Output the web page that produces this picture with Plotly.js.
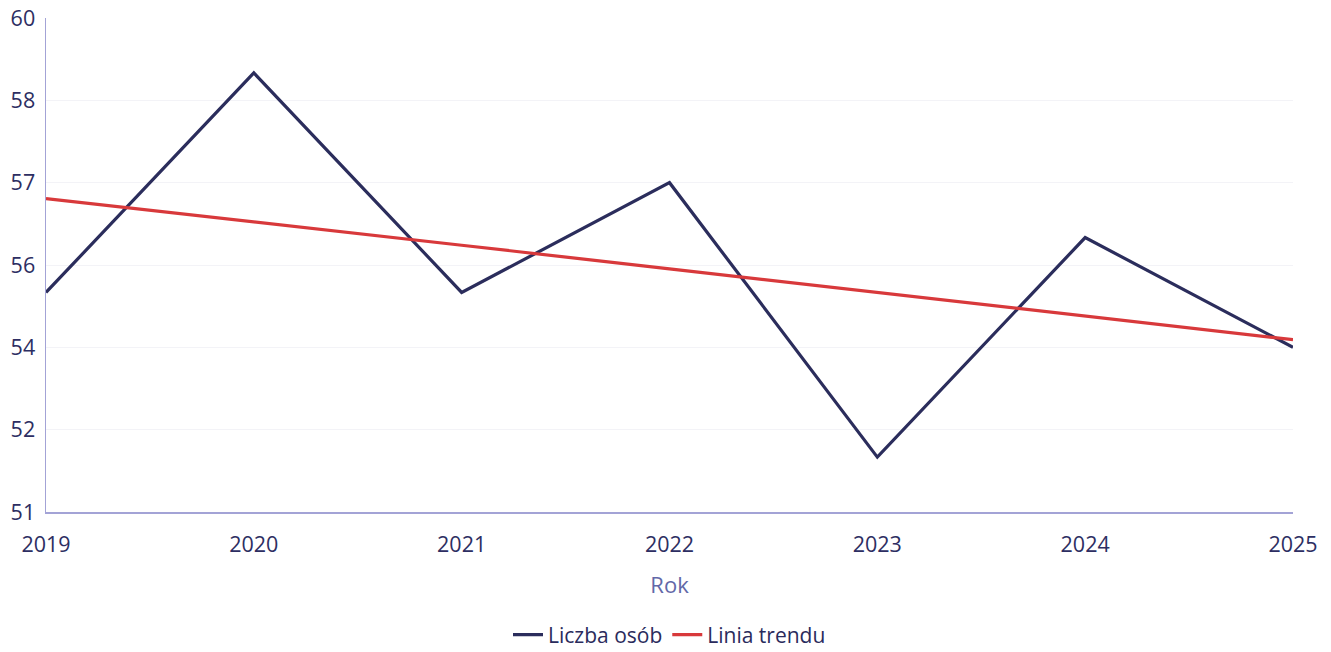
<!DOCTYPE html>
<html>
<head>
<meta charset="utf-8">
<script src="https://cdn.plot.ly/plotly-3.0.1.min.js"></script>
<style>
  html, body { margin: 0; padding: 0; background: #ffffff; }
  #chart { width: 1331px; height: 652px; }
</style>
</head>
<body>
<div id="chart"></div>
<script>
const years = ["2019", "2020", "2021", "2022", "2023", "2024", "2025"];
const liczbaOsob = [55.0, 59.0, 55.0, 57.0, 52.0, 56.0, 54.0];
const liniaTrendu = [56.71, 56.29, 55.86, 55.43, 55.0, 54.57, 54.14];
const yTickVals = [51, 52.5, 54, 55.5, 57, 58.5, 60];
const yTickText = ["51", "52", "54", "56", "57", "58", "60"];

const fontFamily = '"Open Sans", "Noto Sans", sans-serif';

const traces = [
  {
    x: years, y: liczbaOsob, type: 'scatter', mode: 'lines',
    name: 'Liczba osób',
    line: { color: '#2b2d5c', width: 3.2 }
  },
  {
    x: years, y: liniaTrendu, type: 'scatter', mode: 'lines',
    name: 'Linia trendu',
    line: { color: '#d8393b', width: 3.2 }
  }
];

const layout = {
  width: 1331, height: 652,
  margin: { l: 46, r: 38, t: 18, b: 140, autoexpand: false },
  paper_bgcolor: '#ffffff', plot_bgcolor: '#ffffff',
  font: { family: fontFamily, size: 21, color: '#2d2e62' },
  showlegend: true,
  legend: {
    orientation: 'h', x: 0.5, xanchor: 'center', y: -0.249, yanchor: 'middle',
    font: { size: 21, color: '#2a2b5c' }, itemwidth: 30, tracegroupgap: 0
  },
  xaxis: {
    type: 'category',
    range: [0, 6],
    automargin: false,
    showgrid: false, zeroline: false,
    showline: true, linecolor: '#a3a3d6', linewidth: 1.5,
    ticks: '', ticklabelstandoff: 13,
    tickfont: { size: 21.5, color: '#2d2e62' },
    title: { text: 'Rok', font: { size: 22, color: '#6268a8' }, standoff: 20 }
  },
  yaxis: {
    range: [51, 60],
    automargin: false,
    tickvals: yTickVals, ticktext: yTickText,
    showgrid: true, gridcolor: '#f3f3f7', gridwidth: 1,
    zeroline: false,
    showline: true, linecolor: '#a3a3d6', linewidth: 1.5,
    ticks: '', ticklabelstandoff: 5,
    tickfont: { size: 21.5, color: '#2d2e62' }
  }
};

Plotly.newPlot('chart', traces, layout, { displayModeBar: false, staticPlot: true });
</script>
</body>
</html>
